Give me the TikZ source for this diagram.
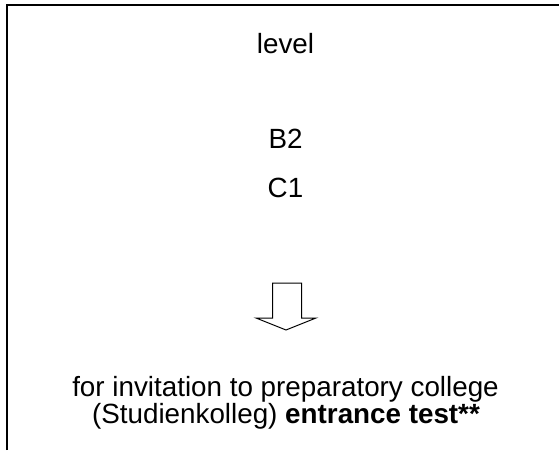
\documentclass[tikz,border=0pt]{standalone}
\usepackage{fontspec}
\setmainfont{Liberation Sans}
\begin{document}
\begin{tikzpicture}[x=1pt,y=-1pt,
  txt/.style={font=\fontsize{27.8}{30}\selectfont, inner sep=0pt, anchor=base},
  frame/.style={line width=2pt},
  blockarrow/.style={line width=1pt, line join=miter}]
\useasboundingbox (0,0) rectangle (559,450);
\draw[frame] (7,450) -- (7,5) -- (559,5);
\node[txt] (level) at (285.5,53) {level};
\node[txt] (b2) at (285.5,148) {B2};
\node[txt] (c1) at (285.5,197) {C1};
\draw[blockarrow] (272.5,318) -- (272.5,283) -- (301.5,283) -- (301.5,318) -- (316,318) -- (286,330) -- (256,318) -- cycle;
\node[txt] (line1) at (285.5,396) {for invitation to preparatory college};
\node[txt] (line2) at (286,423.5) {(Studienkolleg) \textbf{entrance test**}};
\end{tikzpicture}
\end{document}
